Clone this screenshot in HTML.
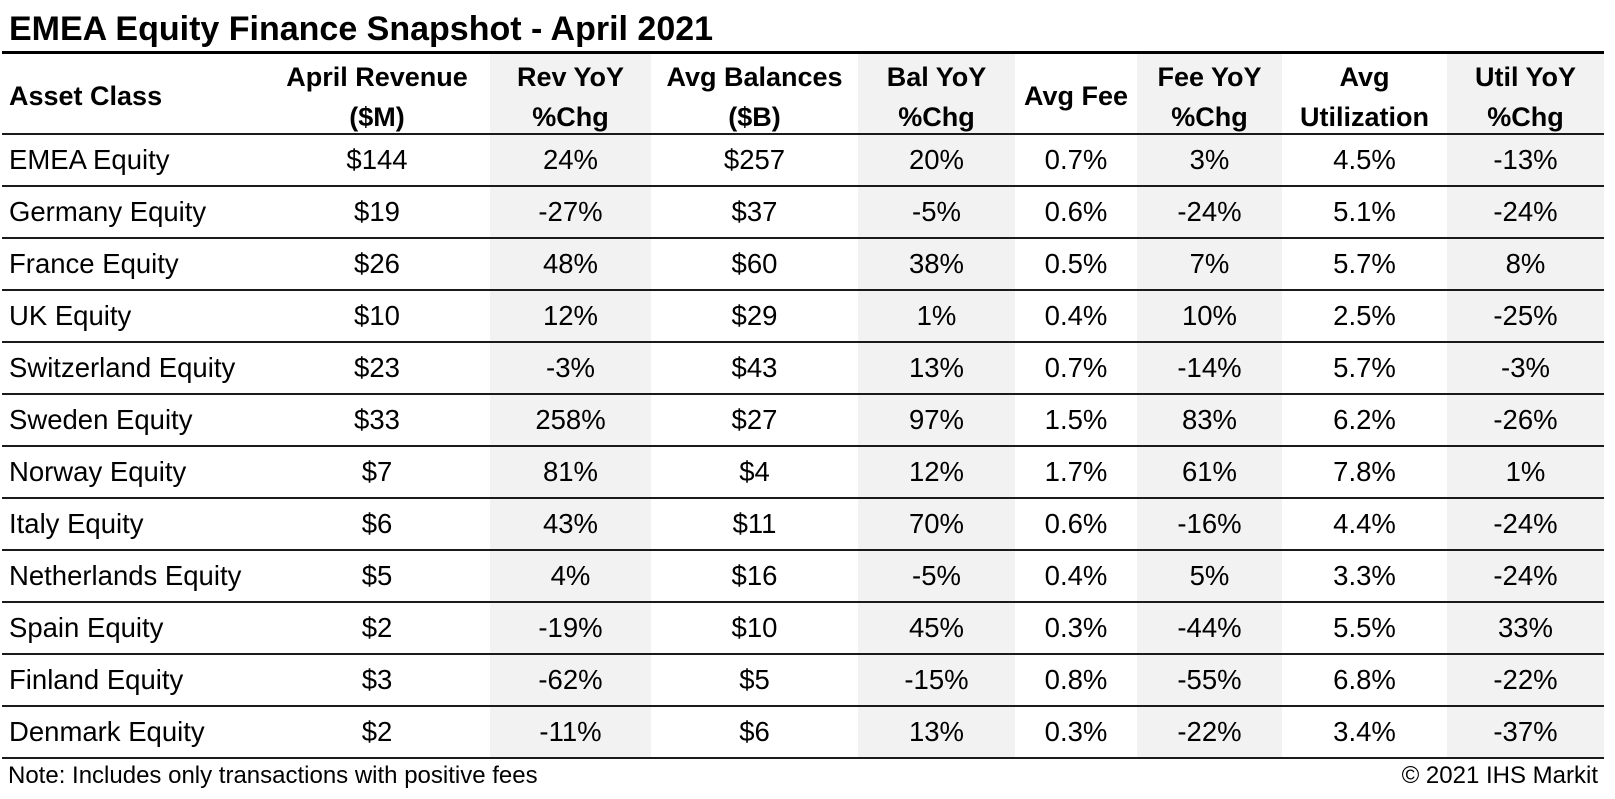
<!DOCTYPE html>
<html>
<head>
<meta charset="utf-8">
<style>
  html, body { margin:0; padding:0; }
  body { width:1615px; height:799px; background:#fff; position:relative; overflow:hidden;
         font-family:"Liberation Sans", sans-serif; color:#000; }
  .abs { position:absolute; }
  .title { left:9px; top:9px; font-size:34px; font-weight:bold; line-height:40px; white-space:nowrap; }
  .gray { position:absolute; top:54px; height:704px; background:#f2f2f2; }
  .line { position:absolute; left:2px; width:1602px; height:2px; background:#1a1a1a; }
  .thick { position:absolute; left:2px; width:1602px; top:51px; height:3px; background:#000; }
  .hdr { position:absolute; top:57px; height:80px; font-weight:bold; font-size:27px; line-height:40px; text-align:center; white-space:nowrap; }
  .hdr.one { top:76px; height:40px; }
  .row { position:absolute; left:2px; height:52px; display:flex; font-size:27.5px; line-height:52px; white-space:nowrap; }
  .row div { text-align:center; flex:none; }
  .row .c0 { width:255px; padding-left:7px; text-align:left; }
  .c1 { width:226px; } .c2 { width:161px; } .c3 { width:207px; } .c4 { width:157px; }
  .c5 { width:122px; } .c6 { width:145px; } .c7 { width:165px; } .c8 { width:157px; }
  .note { left:8px; top:761px; font-size:24px; line-height:30px; white-space:nowrap; }
  .copy { right:17px; top:761px; font-size:24px; line-height:30px; white-space:nowrap; }
</style>
</head>
<body>
<div class="abs title">EMEA Equity Finance Snapshot - April 2021</div>

<div class="gray" style="left:490px;width:161px;"></div>
<div class="gray" style="left:858px;width:157px;"></div>
<div class="gray" style="left:1137px;width:145px;"></div>
<div class="gray" style="left:1447px;width:157px;"></div>

<div class="thick"></div>

<div class="hdr one" style="left:9px;text-align:left;">Asset Class</div>
<div class="hdr" style="left:264px;width:226px;">April Revenue<br>($M)</div>
<div class="hdr" style="left:490px;width:161px;">Rev YoY<br>%Chg</div>
<div class="hdr" style="left:651px;width:207px;">Avg Balances<br>($B)</div>
<div class="hdr" style="left:858px;width:157px;">Bal YoY<br>%Chg</div>
<div class="hdr one" style="left:1015px;width:122px;">Avg Fee</div>
<div class="hdr" style="left:1137px;width:145px;">Fee YoY<br>%Chg</div>
<div class="hdr" style="left:1282px;width:165px;">Avg<br>Utilization</div>
<div class="hdr" style="left:1447px;width:157px;">Util YoY<br>%Chg</div>

<div class="line" style="top:133px;"></div>
<div class="line" style="top:185px;"></div>
<div class="line" style="top:237px;"></div>
<div class="line" style="top:289px;"></div>
<div class="line" style="top:341px;"></div>
<div class="line" style="top:393px;"></div>
<div class="line" style="top:445px;"></div>
<div class="line" style="top:497px;"></div>
<div class="line" style="top:549px;"></div>
<div class="line" style="top:601px;"></div>
<div class="line" style="top:653px;"></div>
<div class="line" style="top:705px;"></div>
<div class="line" style="top:757px;"></div>

<div class="row" style="top:134px;"><div class="c0">EMEA Equity</div><div class="c1">$144</div><div class="c2">24%</div><div class="c3">$257</div><div class="c4">20%</div><div class="c5">0.7%</div><div class="c6">3%</div><div class="c7">4.5%</div><div class="c8">-13%</div></div>
<div class="row" style="top:186px;"><div class="c0">Germany Equity</div><div class="c1">$19</div><div class="c2">-27%</div><div class="c3">$37</div><div class="c4">-5%</div><div class="c5">0.6%</div><div class="c6">-24%</div><div class="c7">5.1%</div><div class="c8">-24%</div></div>
<div class="row" style="top:238px;"><div class="c0">France Equity</div><div class="c1">$26</div><div class="c2">48%</div><div class="c3">$60</div><div class="c4">38%</div><div class="c5">0.5%</div><div class="c6">7%</div><div class="c7">5.7%</div><div class="c8">8%</div></div>
<div class="row" style="top:290px;"><div class="c0">UK Equity</div><div class="c1">$10</div><div class="c2">12%</div><div class="c3">$29</div><div class="c4">1%</div><div class="c5">0.4%</div><div class="c6">10%</div><div class="c7">2.5%</div><div class="c8">-25%</div></div>
<div class="row" style="top:342px;"><div class="c0">Switzerland Equity</div><div class="c1">$23</div><div class="c2">-3%</div><div class="c3">$43</div><div class="c4">13%</div><div class="c5">0.7%</div><div class="c6">-14%</div><div class="c7">5.7%</div><div class="c8">-3%</div></div>
<div class="row" style="top:394px;"><div class="c0">Sweden Equity</div><div class="c1">$33</div><div class="c2">258%</div><div class="c3">$27</div><div class="c4">97%</div><div class="c5">1.5%</div><div class="c6">83%</div><div class="c7">6.2%</div><div class="c8">-26%</div></div>
<div class="row" style="top:446px;"><div class="c0">Norway Equity</div><div class="c1">$7</div><div class="c2">81%</div><div class="c3">$4</div><div class="c4">12%</div><div class="c5">1.7%</div><div class="c6">61%</div><div class="c7">7.8%</div><div class="c8">1%</div></div>
<div class="row" style="top:498px;"><div class="c0">Italy Equity</div><div class="c1">$6</div><div class="c2">43%</div><div class="c3">$11</div><div class="c4">70%</div><div class="c5">0.6%</div><div class="c6">-16%</div><div class="c7">4.4%</div><div class="c8">-24%</div></div>
<div class="row" style="top:550px;"><div class="c0">Netherlands Equity</div><div class="c1">$5</div><div class="c2">4%</div><div class="c3">$16</div><div class="c4">-5%</div><div class="c5">0.4%</div><div class="c6">5%</div><div class="c7">3.3%</div><div class="c8">-24%</div></div>
<div class="row" style="top:602px;"><div class="c0">Spain Equity</div><div class="c1">$2</div><div class="c2">-19%</div><div class="c3">$10</div><div class="c4">45%</div><div class="c5">0.3%</div><div class="c6">-44%</div><div class="c7">5.5%</div><div class="c8">33%</div></div>
<div class="row" style="top:654px;"><div class="c0">Finland Equity</div><div class="c1">$3</div><div class="c2">-62%</div><div class="c3">$5</div><div class="c4">-15%</div><div class="c5">0.8%</div><div class="c6">-55%</div><div class="c7">6.8%</div><div class="c8">-22%</div></div>
<div class="row" style="top:706px;"><div class="c0">Denmark Equity</div><div class="c1">$2</div><div class="c2">-11%</div><div class="c3">$6</div><div class="c4">13%</div><div class="c5">0.3%</div><div class="c6">-22%</div><div class="c7">3.4%</div><div class="c8">-37%</div></div>

<div class="abs note">Note: Includes only transactions with positive fees</div>
<div class="abs copy">© 2021 IHS Markit</div>
</body>
</html>
